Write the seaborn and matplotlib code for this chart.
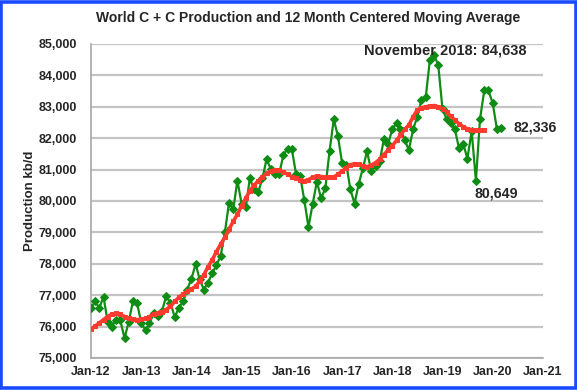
import matplotlib
matplotlib.use("Agg")
import matplotlib.pyplot as plt
import pandas as pd
import seaborn as sns
from matplotlib.patches import Rectangle

# ---------------- data ----------------
start_month = "2012-01-01"

production = [
    # 2012
    76600, 76800, 76590, 76950, 76160, 76000, 76220, 76200, 75630, 76150, 76800, 76750,
    # 2013
    76110, 75880, 76100, 76430, 76330, 76500, 76970, 76760, 76300, 76600, 76800, 77180,
    # 2014
    77530, 78000, 77500, 77180, 77400, 77700, 77950, 78250, 79000, 79950, 79740, 80650,
    # 2015
    79900, 79820, 80720, 80380, 80280, 80720, 81330, 81020, 80870, 80870, 81470, 81670,
    # 2016
    81650, 80850, 80800, 80020, 79170, 79920, 80620, 80080, 80420, 81580, 82600, 82070,
    # 2017
    81200, 81160, 80380, 79920, 80530, 81050, 81580, 80950, 81110, 81260, 81980, 81800,
    # 2018
    82300, 82470, 82300, 81950, 81620, 82280, 82680, 83220, 83300, 84500, 84638, 84330,
    # 2019
    82920, 82600, 82480, 82280, 81680, 81820, 81350, 82220, 80649, 82620, 83520, 83520,
    # 2020
    83120, 82280, 82336,
]

moving_avg = [
    # 2012
    75920, 76020, 76120, 76220, 76320, 76400, 76420, 76390, 76320, 76270, 76250, 76220,
    # 2013
    76230, 76260, 76320, 76400, 76440, 76470, 76540, 76650, 76800, 76930, 77030, 77130,
    # 2014
    77200, 77280, 77450, 77650, 77900, 78130, 78380, 78620, 78850, 79100, 79350, 79580,
    # 2015
    79850, 80100, 80320, 80500, 80640, 80750, 80880, 80950, 81000, 80980, 80920, 80850,
    # 2016
    80780, 80720, 80660, 80640, 80680, 80760, 80790, 80780, 80760, 80750, 80760, 80850,
    # 2017
    80950, 81060, 81150, 81190, 81170, 81120, 81090, 81140, 81220, 81330, 81480, 81620,
    # 2018
    81760, 81930, 82100, 82280, 82420, 82680, 82900, 82970, 83000, 83020, 83040, 83000,
    # 2019
    82930, 82840, 82700, 82580, 82460, 82360, 82300, 82270, 82260, 82260, 82260,
]

x_tick_labels = ["Jan-12", "Jan-13", "Jan-14", "Jan-15", "Jan-16",
                 "Jan-17", "Jan-18", "Jan-19", "Jan-20", "Jan-21"]
y_ticks = [75000, 76000, 77000, 78000, 79000, 80000, 81000, 82000, 83000, 84000, 85000]

title = "World C + C Production and 12 Month Centered Moving Average"
y_label = "Production kb/d"
peak_label = "November 2018: 84,638"
last_label = "82,336"
low_label = "80,649"

# ---------------- frames ----------------
dates = pd.date_range(start_month, periods=len(production), freq="MS")
df = pd.DataFrame({"date": dates, "production": production})
ma_df = pd.DataFrame({"date": dates[:len(moving_avg)], "ma": moving_avg})
tick_dates = pd.to_datetime(["20%s-01-01" % l[-2:] for l in x_tick_labels])

# ---------------- style ----------------
sns.set_theme(style="white")
plt.rcParams["font.family"] = ["Liberation Sans", "DejaVu Sans"]
plt.rcParams["font.weight"] = "bold"

W, H = 577, 390
fig = plt.figure(figsize=(W / 100, H / 100), dpi=100)
fig.patch.set_facecolor("white")
ax = fig.add_axes([91 / W, 1 - 358 / H, (543 - 91) / W, (358 - 44) / H])

green = "#0e8c14"
red = "#ff3a2e"

sns.lineplot(data=df, x="date", y="production", ax=ax, color=green, lw=1.6,
             marker="D", markersize=3.8, markeredgecolor=green, markerfacecolor=green,
             zorder=3)
sns.lineplot(data=ma_df, x="date", y="ma", ax=ax, color=red, lw=2.6,
             marker="s", markersize=3.0, markeredgecolor=red, markerfacecolor=red,
             zorder=4)

ax.set_xlim(tick_dates[0], tick_dates[-1])
ax.set_ylim(y_ticks[0], y_ticks[-1])
ax.set_xticks(tick_dates)
ax.set_xticklabels(x_tick_labels, fontsize=9, fontweight="bold")
ax.set_yticks(y_ticks)
ax.set_yticklabels([f"{v:,}" for v in y_ticks], fontsize=9, fontweight="bold")
ax.set_xlabel("")
ax.set_ylabel(y_label, fontsize=9.5, fontweight="bold", labelpad=2)

ax.grid(axis="y", color="#c4c4c4", lw=1.6)
ax.grid(axis="x", visible=False)
for s in ["top", "right"]:
    ax.spines[s].set_visible(False)
for s in ["left", "bottom"]:
    ax.spines[s].set_color("#a8a8a8")
    ax.spines[s].set_linewidth(1.2)
ax.tick_params(axis="x", direction="in", length=3, color="#a8a8a8", pad=6)
ax.tick_params(axis="y", length=0, pad=10)

fig.text(308 / W, 1 - 18 / H, title, ha="center", va="center",
         fontsize=10, fontweight="bold")

# annotations
peak_i = production.index(max(production))
ax.annotate(peak_label, xy=(dates[peak_i], production[peak_i]), xytext=(8, 3.5),
            textcoords="offset points", ha="center", va="center",
            fontsize=10.5, fontweight="bold")
ax.annotate(last_label, xy=(dates[-1], production[-1]), xytext=(9, 0),
            textcoords="offset points", ha="left", va="center",
            fontsize=10.2, fontweight="bold")
low_i = 80 + production[80:].index(min(production[80:]))
ax.annotate(low_label, xy=(dates[low_i], production[low_i]), xytext=(15, -9),
            textcoords="offset points", ha="center", va="center",
            fontsize=10.2, fontweight="bold")

# blue frame
fig.patches.append(Rectangle((0.0025, 0.004), 0.995, 0.992, transform=fig.transFigure,
                             fill=False, ec="#1a4cff", lw=2.6, zorder=10))

fig.savefig("out.png", dpi=100)
